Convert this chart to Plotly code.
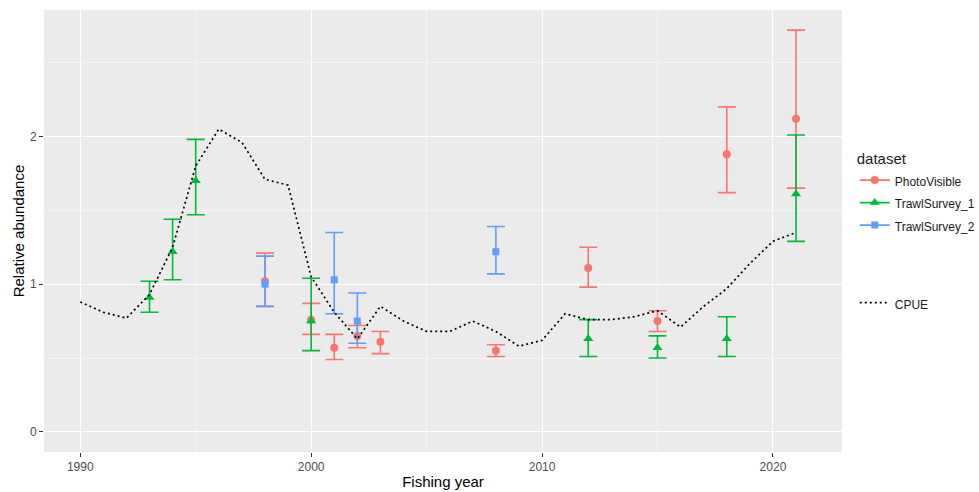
import plotly.graph_objects as go

# ---- data ----
photo_years = [1998, 2000, 2001, 2002, 2003, 2008, 2012, 2015, 2018, 2021]
photo_val = [1.02, 0.76, 0.57, 0.65, 0.61, 0.55, 1.11, 0.75, 1.88, 2.12]
photo_lo = [0.85, 0.66, 0.49, 0.57, 0.53, 0.51, 0.98, 0.68, 1.62, 1.65]
photo_hi = [1.21, 0.87, 0.66, 0.72, 0.68, 0.59, 1.25, 0.82, 2.20, 2.72]

trawl1_years = [1993, 1994, 1995, 2000, 2012, 2015, 2018, 2021]
trawl1_val = [0.91, 1.22, 1.70, 0.75, 0.63, 0.57, 0.63, 1.61]
trawl1_lo = [0.81, 1.03, 1.47, 0.55, 0.51, 0.50, 0.51, 1.29]
trawl1_hi = [1.02, 1.44, 1.98, 1.04, 0.76, 0.65, 0.78, 2.01]

trawl2_years = [1998, 2001, 2002, 2008]
trawl2_val = [1.00, 1.03, 0.75, 1.22]
trawl2_lo = [0.85, 0.80, 0.60, 1.07]
trawl2_hi = [1.19, 1.35, 0.94, 1.39]

cpue_years = list(range(1990, 2022))
cpue_val = [0.88, 0.81, 0.77, 0.93, 1.25, 1.80, 2.05, 1.96, 1.71, 1.67,
            1.05, 0.81, 0.63, 0.85, 0.75, 0.68, 0.68, 0.75, 0.68, 0.58,
            0.62, 0.80, 0.76, 0.76, 0.78, 0.82, 0.71, 0.85, 0.97, 1.14,
            1.29, 1.35]

x_ticks = [1990, 2000, 2010, 2020]
y_ticks = [0, 1, 2]

series = [
    ("PhotoVisible", photo_years, photo_val, photo_lo, photo_hi, "#F8766D", "circle", 8),
    ("TrawlSurvey_1", trawl1_years, trawl1_val, trawl1_lo, trawl1_hi, "#00BA38", "triangle-up", 9),
    ("TrawlSurvey_2", trawl2_years, trawl2_val, trawl2_lo, trawl2_hi, "#619CFF", "square", 7),
]

def legend_label(text):
    return "<span style='font-size:12px'>" + text + "</span>"

fig = go.Figure()
for name, xs, ys, lo, hi, col, sym, sz in series:
    fig.add_trace(go.Scatter(
        x=xs, y=ys, mode="markers", name=name, showlegend=False,
        marker=dict(color=col, symbol=sym, size=sz),
        error_y=dict(type="data", symmetric=False,
                     array=[h - v for h, v in zip(hi, ys)],
                     arrayminus=[v - l for v, l in zip(ys, lo)],
                     color=col, thickness=1.6, width=9),
    ))
for name, xs, ys, lo, hi, col, sym, sz in series:
    fig.add_trace(go.Scatter(
        x=[None], y=[None], mode="lines+markers", name=legend_label(name), legend="legend",
        line=dict(color=col, width=1.6), marker=dict(color=col, symbol=sym, size=sz),
    ))

fig.add_trace(go.Scatter(
    x=cpue_years, y=cpue_val, mode="lines", name=legend_label("CPUE"), legend="legend2",
    line=dict(color="black", width=1.7, dash="2px,3px"),
))

font_family = "Liberation Sans, Arial, sans-serif"
fig.update_layout(
    width=979, height=492,
    margin=dict(l=44, r=137, t=10, b=40, autoexpand=False),
    paper_bgcolor="white", plot_bgcolor="#EBEBEB",
    font=dict(family=font_family, color="black"),
    xaxis=dict(range=[1988.43, 2022.99], tickvals=x_ticks, ticks="outside", ticklen=4,
               tickcolor="#333333", tickwidth=1, showgrid=True, gridcolor="white", gridwidth=1.3,
               zeroline=False, showline=False,
               tickfont=dict(size=12, color="#4D4D4D"),
               minor=dict(tickvals=[1995, 2005, 2015], showgrid=True, gridcolor="#F5F5F5", gridwidth=0.6),
               title=dict(text="Fishing year", font=dict(size=15), standoff=3)),
    yaxis=dict(range=[-0.136, 2.856], tickvals=y_ticks, ticks="outside", ticklen=4,
               tickcolor="#333333", tickwidth=1, showgrid=True, gridcolor="white", gridwidth=1.3,
               zeroline=False, showline=False,
               tickfont=dict(size=12, color="#4D4D4D"),
               minor=dict(tickvals=[0.5, 1.5, 2.5], showgrid=True, gridcolor="#F5F5F5", gridwidth=0.6),
               title=dict(text="Relative abundance", font=dict(size=15), standoff=1)),
    legend=dict(x=1.016, y=0.696, xanchor="left", yanchor="top",
                title=dict(text="dataset", font=dict(size=15)),
                font=dict(size=15, color="#1A1A1A"), bgcolor="rgba(0,0,0,0)",
                itemwidth=30, tracegroupgap=0),
    legend2=dict(x=1.016, y=0.3745, xanchor="left", yanchor="top",
                 font=dict(size=15, color="#1A1A1A"), bgcolor="rgba(0,0,0,0)",
                 itemwidth=30),
)

fig.write_html("out.html")
